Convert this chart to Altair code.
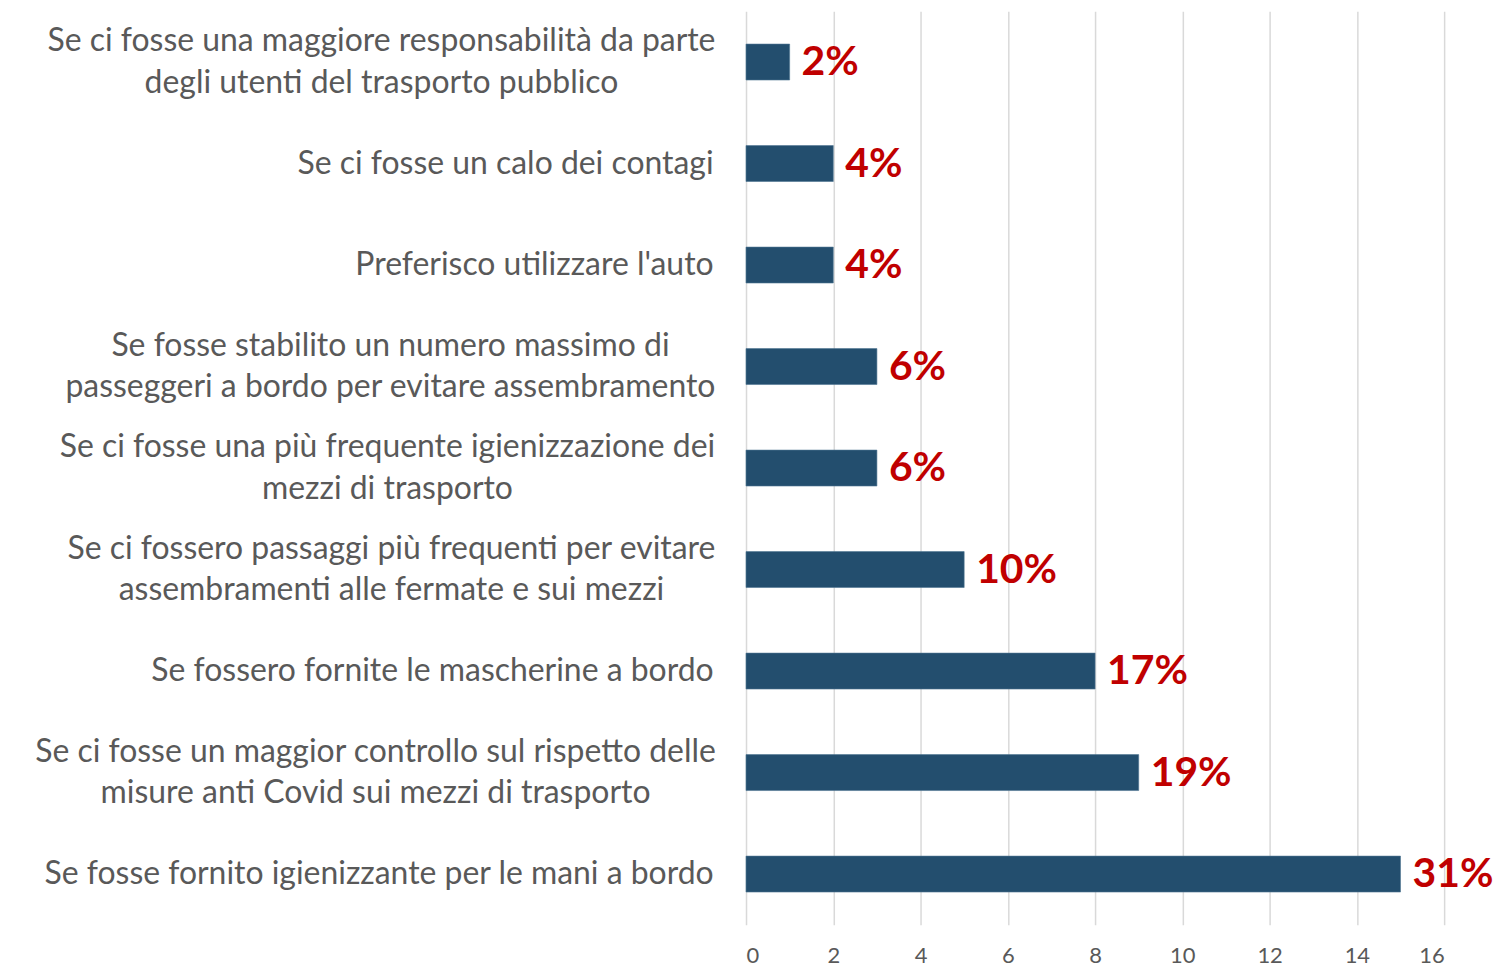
import altair as alt
import pandas as pd

categories = [
    "Se ci fosse una maggiore responsabilità da parte|degli utenti del trasporto pubblico",
    "Se ci fosse un calo dei contagi",
    "Preferisco utilizzare l'auto",
    "Se fosse stabilito un numero massimo di|passeggeri a bordo per evitare assembramento",
    "Se ci fosse una più frequente igienizzazione dei|mezzi di trasporto",
    "Se ci fossero passaggi più frequenti per evitare|assembramenti alle fermate e sui mezzi",
    "Se fossero fornite le mascherine a bordo",
    "Se ci fosse un maggior controllo sul rispetto delle|misure anti Covid sui mezzi di trasporto",
    "Se fosse fornito igienizzante per le mani a bordo",
]
values = [1, 2, 2, 3, 3, 5, 8, 9, 15]
pct_labels = ["2%", "4%", "4%", "6%", "6%", "10%", "17%", "19%", "31%"]
x_ticks = [0, 2, 4, 6, 8, 10, 12, 14, 16]

df = pd.DataFrame({"cat": categories, "val": values, "lab": pct_labels})

FONT = "Lato"

# style: distance from axis to the centre of each two-line label block
# (so that lines are centred within a right-aligned block)
block_pad = {
    categories[0]: 366,
    categories[3]: 357,
    categories[4]: 360,
    categories[5]: 356,
    categories[7]: 372,
}
pad_conditions = [
    {"test": f"datum.value === '{c}'", "value": p} for c, p in block_pad.items()
]
multi_test = "indexof(datum.value, '|') >= 0"

y_enc = alt.Y(
    "cat:N",
    sort=categories,
    title=None,
    scale=alt.Scale(paddingInner=0.646, paddingOuter=0.323),
    axis=alt.Axis(
        labelExpr="split(datum.label, '|')",
        labelFont=FONT,
        labelFontSize=32,
        labelColor="#595959",
        labelLineHeight=42,
        labelPadding={"condition": pad_conditions, "value": 33},
        labelLimit=0,
        ticks=False,
        domain=False,
        labelAlign={"condition": {"test": multi_test, "value": "center"}, "value": "right"},
        labelOffset={"condition": {"test": multi_test, "value": -21}, "value": 0},
    ),
)

x_enc = alt.X(
    "val:Q",
    title=None,
    scale=alt.Scale(domain=[0, 16], nice=False),
    axis=alt.Axis(
        values=x_ticks,
        grid=True,
        gridColor="#D9D9D9",
        gridWidth=1.5,
        ticks=False,
        domain=False,
        labelFont=FONT,
        labelFontSize=22,
        labelColor="#595959",
        labelPadding=21,
    ),
)

bars = alt.Chart(df).mark_bar(color="#234E6E", stroke="#4f7592", strokeWidth=0.6).encode(
    x=x_enc, y=y_enc
)

text = alt.Chart(df).mark_text(
    align="left", baseline="middle", dx=12, dy=1,
    font=FONT, fontSize=41, fontWeight="bold", color="#C00000"
).encode(x="val:Q", y=alt.Y("cat:N", sort=categories), text="lab:N")

chart = (bars + text).properties(
    width=700,
    height=916,
    autosize=alt.AutoSizeParams(type="none"),
    padding={"left": 740, "top": 2, "right": 50, "bottom": 44},
).configure_view(stroke=None)

chart.save("out.html", embed_options={"renderer": "svg", "actions": False})
